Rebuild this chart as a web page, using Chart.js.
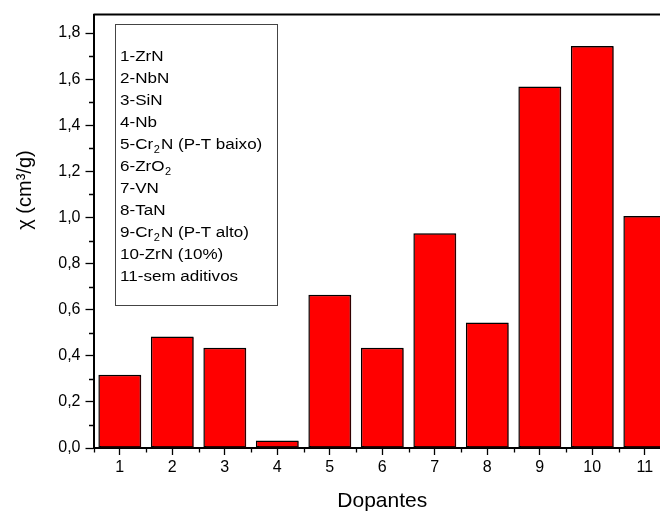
<!DOCTYPE html>
<html><head><meta charset="utf-8">
<script src="https://cdn.jsdelivr.net/npm/chart.js@4"></script>
<style>html,body{margin:0;padding:0;background:#fff;overflow:hidden}
#wrap{position:relative;width:690px;height:512px}</style>
</head><body><div id="wrap"><canvas id="c" width="690" height="512"></canvas></div>
<script>
const categories = ['1','2','3','4','5','6','7','8','9','10','11'];
const values = [0.318, 0.484, 0.435, 0.033, 0.665, 0.435, 0.932, 0.544, 1.568, 1.744, 1.006];
const yTickValues = [0, 0.2, 0.4, 0.6, 0.8, 1.0, 1.2, 1.4, 1.6, 1.8];
const yTickLabels = ['0,0','0,2','0,4','0,6','0,8','1,0','1,2','1,4','1,6','1,8'];
const legendItems = ['1-ZrN','2-NbN','3-SiN','4-Nb','5-Cr₂N (P-T baixo)','6-ZrO₂','7-VN','8-TaN','9-Cr₂N (P-T alto)','10-ZrN (10%)','11-sem aditivos'];
const xTitle = 'Dopantes';
const yTitle = 'χ (cm³/g)';

const FONT = '"Liberation Sans", Arial, sans-serif';

function drawRich(ctx, str, x, y, size){
  const parts = str.split('₂');
  let cx = x;
  parts.forEach((p, i) => {
    ctx.font = size + 'px ' + FONT;
    ctx.fillText(p, cx, y);
    cx += ctx.measureText(p).width;
    if (i < parts.length - 1){
      const s = Math.round(size * 0.62);
      ctx.font = s + 'px ' + FONT;
      ctx.fillText('2', cx + 0.5, y + size * 0.34);
      cx += ctx.measureText('2').width + 1.5;
    }
  });
}

const decor = {
  id: 'decor',
  beforeDatasetsDraw(chart){
    const ctx = chart.ctx;
    ctx.save();
    ctx.shadowColor = 'rgba(90,0,0,0.55)';
    ctx.shadowOffsetX = 1.5;
    ctx.shadowOffsetY = 0.5;
    ctx.shadowBlur = 0.5;
  },
  afterDatasetsDraw(chart){ chart.ctx.restore(); },
  afterDraw(chart){
    const ctx = chart.ctx;
    const a = chart.chartArea;
    ctx.save();
    ctx.strokeStyle = '#000';
    ctx.lineWidth = 2;
    ctx.beginPath();
    ctx.moveTo(a.left, a.top); ctx.lineTo(a.right, a.top); ctx.lineTo(a.right, a.bottom);
    ctx.stroke();
    // minor ticks
    ctx.lineWidth = 1.3;
    const ys = chart.scales.y;
    ctx.beginPath();
    for (let i = 0; i < yTickValues.length; i++){
      const v = yTickValues[i] + 0.1;
      if (v <= ys.max + 1e-9){
        const py = Math.round(ys.getPixelForValue(v)) + 0.5;
        ctx.moveTo(a.left, py); ctx.lineTo(a.left - 4.5, py);
      }
    }
    const xs = chart.scales.x;
    for (let i = 0; i <= categories.length; i++){
      const px = Math.round(xs.getPixelForValue(i - 0.5)) + 0.5;
      ctx.moveTo(px, a.bottom); ctx.lineTo(px, a.bottom + 4.5);
    }
    ctx.stroke();
    // y title
    ctx.fillStyle = '#000';
    ctx.save();
    ctx.translate(25, 190);
    ctx.rotate(-Math.PI / 2);
    ctx.textAlign = 'center';
    ctx.textBaseline = 'middle';
    ctx.font = '20px ' + FONT;
    ctx.fillText(yTitle, 0, 0);
    ctx.restore();
    // legend box
    ctx.strokeStyle = '#444';
    ctx.lineWidth = 1;
    ctx.strokeRect(115.5, 24.5, 162, 281);
    ctx.textAlign = 'left';
    ctx.textBaseline = 'middle';
    ctx.save();
    ctx.translate(120, 0);
    ctx.scale(1.1, 1);
    legendItems.forEach((t, i) => drawRich(ctx, t, 0, 57 + i * 22, 15.5));
    ctx.restore();
    ctx.restore();
  }
};

new Chart(document.getElementById('c'), {
  type: 'bar',
  data: {
    labels: categories,
    datasets: [{
      data: values,
      backgroundColor: '#ff0000',
      borderColor: '#000',
      borderWidth: 1.5,
      borderSkipped: false,
      barPercentage: 0.815,
      categoryPercentage: 1.0
    }]
  },
  options: {
    responsive: false,
    animation: false,
    devicePixelRatio: 1,
    layout: { padding: { left: 0, top: 11, right: 19, bottom: 0 } },
    plugins: { legend: { display: false }, tooltip: { enabled: false } },
    scales: {
      x: {
        type: 'category',
        offset: true,
        grid: { display: true, drawOnChartArea: false, drawTicks: true, tickLength: 7, tickWidth: 1.3, tickColor: '#000', offset: false },
        border: { display: true, color: '#000', width: 2 },
        ticks: { color: '#000', font: { family: FONT, size: 16 }, padding: 3, maxRotation: 0, autoSkip: false },
        title: { display: true, text: xTitle, color: '#000', font: { family: FONT, size: 21, lineHeight: 1 }, padding: { top: 0, bottom: 0 } },
        afterFit(s){ s.height = 64; }
      },
      y: {
        min: 0, max: 1.88,
        afterBuildTicks(s){ s.ticks = yTickValues.map(v => ({ value: v })); },
        grid: { display: true, drawOnChartArea: false, drawTicks: true, tickLength: 8, tickWidth: 1.3, tickColor: '#000' },
        border: { display: true, color: '#000', width: 2 },
        ticks: { color: '#000', font: { family: FONT, size: 16 }, padding: 5, callback: (v, i) => yTickLabels[i] },
        afterFit(s){ s.width = 93.5; }
      }
    }
  },
  plugins: [decor]
});
</script></body></html>
